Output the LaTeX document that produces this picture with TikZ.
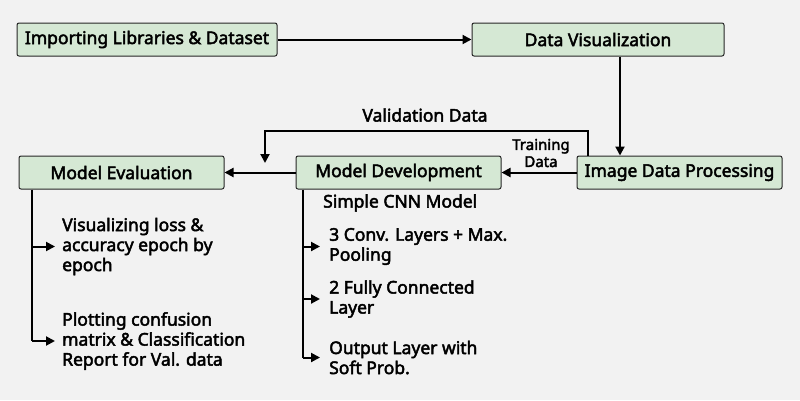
\documentclass[tikz,border=0pt]{standalone}
\usepackage{fontspec}
\setmainfont{Noto Sans}
\newfontfamily\nsb{Noto Sans}[FakeBold=2.6]
\usetikzlibrary{arrows.meta}
\definecolor{bg}{HTML}{F2F2F2}
\definecolor{boxg}{HTML}{D5E8D4}
\begin{document}
\begin{tikzpicture}[x=1pt,y=-1pt,
  every node/.style={font=\nsb\fontsize{17.5}{20}\selectfont, text=black},
  box/.style={draw=black!85, fill=boxg, line width=1pt, rounded corners=2pt, minimum height=33pt, inner sep=0pt},
  con/.style={line width=2pt, -{Triangle[length=9pt,width=9pt]}},
  ln/.style={line width=2pt},
  lbl/.style={align=left, anchor=west, inner sep=0pt},
  ]
\fill[bg] (0,0) rectangle (800,400);
\useasboundingbox (0,0) rectangle (800,400);
\node[box, minimum width=260pt] (imp) at (147,39.5) {Importing Libraries \& Dataset};
\node[box, minimum width=252pt] (vis) at (598,39.5) {Data Visualization};
\node[box, minimum width=205pt] (idp) at (679.5,172.5) {Image Data Processing};
\node[box, minimum width=205pt] (dev) at (398.5,172.5) {Model Development};
\node[box, minimum width=205pt] (eva) at (121.5,172.5) {Model Evaluation};

\draw[con] (imp.east) -- (vis.west);
\draw[con] (vis.south -| 620,0) -- (idp.north -| 620,0);
\draw[con] (idp.west) -- (dev.east);
\draw[con] (dev.west) -- (eva.east);

\coordinate (vtip) at (265,163);
\draw[con] (idp.north -| 588,0) -- (588,131) -- (265,131) -- (vtip);
\node (vl) at (425,115) {Validation Data};
\node[align=center, font=\nsb\fontsize{15}{17}\selectfont] (tl) at (541,153) {Training\\Data};

% evaluation branch
\coordinate (e1) at (32,246.5);
\coordinate (e2) at (32,341);
\node[lbl] (t1) at (62,246.5) {Visualizing loss \&\\accuracy epoch by\\epoch};
\node[lbl] (t2) at (62,341) {Plotting confusion\\matrix \& Classification\\Report for Val. data};
\draw[ln] (eva.south -| e1) -- (e2);
\draw[con] (e1) -- (t1.west -| 55,0);
\draw[con] (e2) -- (t2.west -| 55,0);

% development branch
\node[lbl] (cnn) at (323,203) {Simple CNN Model};
\coordinate (d1) at (303,246.5);
\coordinate (d2) at (303,299);
\coordinate (d3) at (303,357.5);
\node[lbl] (s1) at (329,246.5) {3 Conv. Layers + Max.\\Pooling};
\node[lbl] (s2) at (329,299) {2 Fully Connected\\Layer};
\node[lbl] (s3) at (329,357.5) {Output Layer with\\Soft Prob.};
\draw[ln] (dev.south -| d1) -- (d3);
\draw[con] (d1) -- (s1.west -| 320,0);
\draw[con] (d2) -- (s2.west -| 320,0);
\draw[con] (d3) -- (s3.west -| 320,0);
\end{tikzpicture}
\end{document}
